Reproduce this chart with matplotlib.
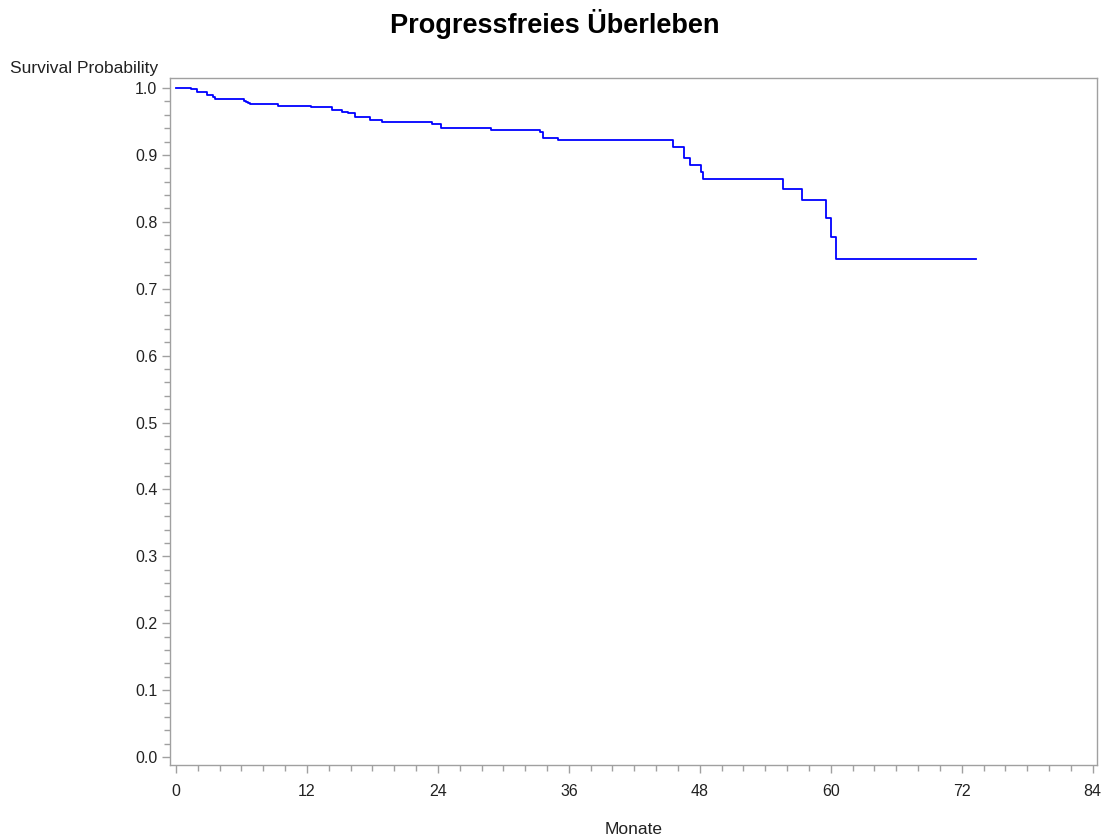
import matplotlib
matplotlib.use("Agg")
import matplotlib.pyplot as plt
from matplotlib.ticker import MultipleLocator

plt.rcParams['font.family'] = ['Liberation Sans', 'DejaVu Sans']

# Kaplan-Meier step curve (months, survival probability)
months = [0.0, 1.35, 1.95, 2.8, 3.35, 3.6, 5.0, 6.2, 6.4, 6.6, 6.8, 9.35, 12.4,
          14.25, 15.25, 15.75, 16.4, 17.8, 18.9, 23.5, 24.25, 28.85, 33.35, 33.6,
          35.0, 45.55, 46.55, 47.1, 48.1, 48.3, 55.6, 57.4, 59.55, 60.05, 60.45]
survival = [1.000, 0.998, 0.994, 0.990, 0.987, 0.984, 0.983, 0.981, 0.979, 0.977,
            0.976, 0.973, 0.971, 0.967, 0.964, 0.962, 0.957, 0.952, 0.949, 0.9455,
            0.941, 0.937, 0.934, 0.926, 0.923, 0.912, 0.895, 0.885, 0.874, 0.864,
            0.849, 0.833, 0.806, 0.777, 0.745]
last_time = 73.35

x_ticks = [0, 12, 24, 36, 48, 60, 72, 84]
y_ticks = [0.0, 0.1, 0.2, 0.3, 0.4, 0.5, 0.6, 0.7, 0.8, 0.9, 1.0]

fig = plt.figure(figsize=(11.07, 8.38), dpi=100)
ax = fig.add_axes([170/1107, 1 - 765/838, (1097-170)/1107, (765-78)/838])

xs = months + [last_time]
ys = survival + [survival[-1]]
ax.step(xs, ys, where='post', color='#0000ff', linewidth=1.3)

ax.set_xlim(-0.55, 84.4)
ax.set_ylim(-0.012, 1.015)
ax.set_xticks(x_ticks)
ax.set_yticks(y_ticks)
ax.set_yticklabels([f"{v:.1f}" for v in y_ticks])
ax.xaxis.set_minor_locator(MultipleLocator(2))
ax.yaxis.set_minor_locator(MultipleLocator(0.02))

frame_color = '#a0a0a0'
for s in ax.spines.values():
    s.set_color(frame_color)
    s.set_linewidth(1.0)
ax.tick_params(axis='both', which='major', length=6, width=1, color=frame_color,
               labelsize=11.5, labelcolor='#222222', pad=3)
ax.tick_params(axis='x', which='major', pad=8)
ax.tick_params(axis='both', which='minor', length=4, width=1, color=frame_color)

ax.set_xlabel('Monate', fontsize=12.5, color='#222222', labelpad=16)
fig.text(84/1107, 1 - 69/838, 'Survival Probability', ha='center', va='center',
         fontsize=12.5, color='#222222')
fig.text(555/1107, 1 - 24/838, 'Progressfreies Überleben', ha='center', va='center',
         fontsize=19.5, fontweight='bold', color='black')

fig.savefig('out.png', dpi=100)
